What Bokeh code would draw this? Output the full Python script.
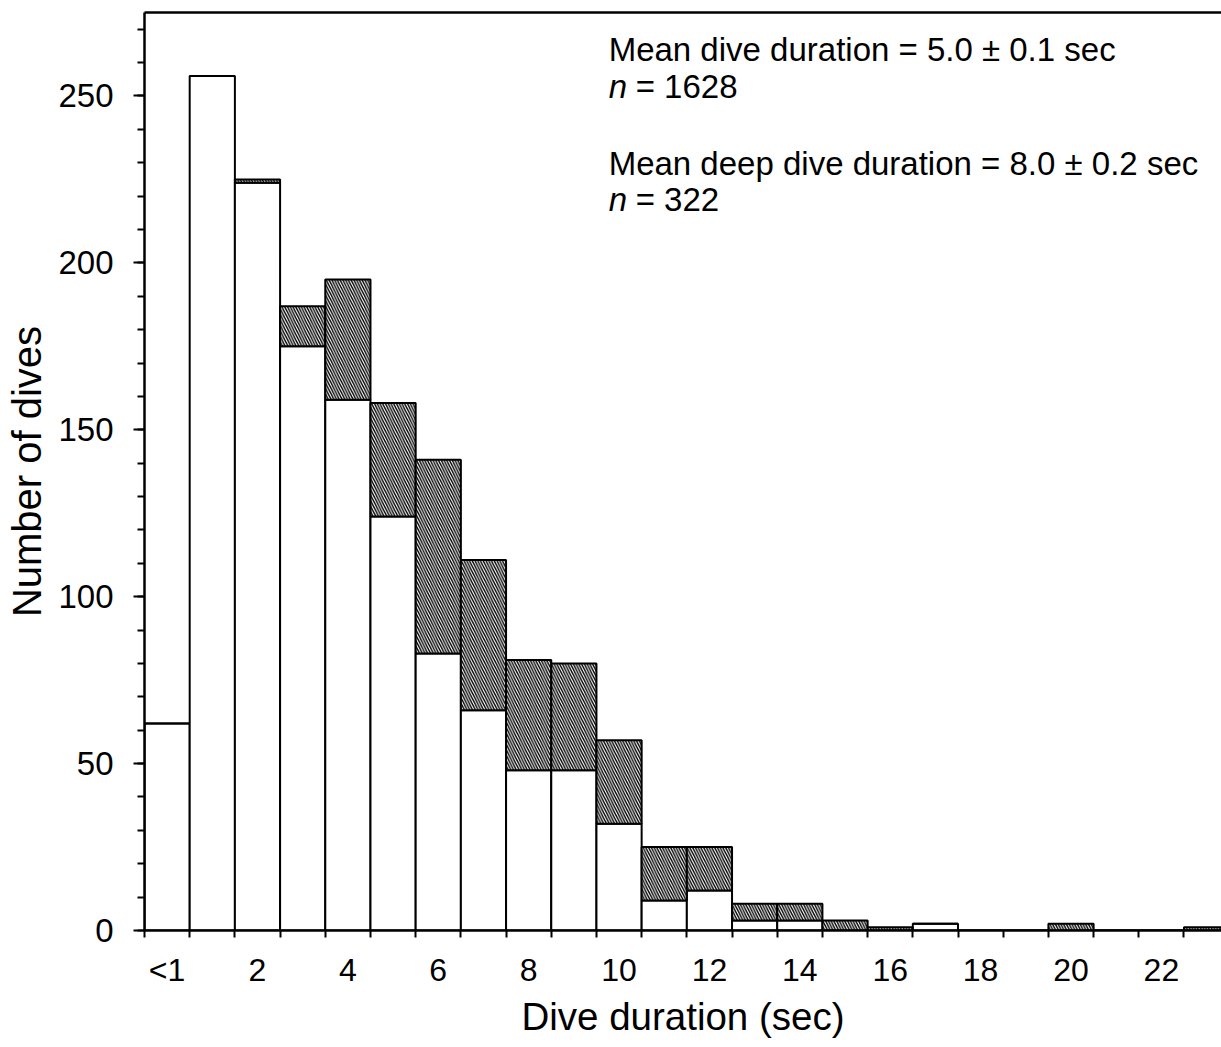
from bokeh.plotting import figure
from bokeh.models import FixedTicker, SingleIntervalTicker, LinearAxis, Label, Range1d, ColumnDataSource
from bokeh.embed import file_html
from bokeh.resources import INLINE

# ---- data ----
bins = list(range(24))  # bin index: 0 = "<1", 1 = 1 sec, ... 23 = 23 sec
shallow_dives = [62, 256, 224, 175, 159, 124, 83, 66, 48, 48, 32, 9, 12, 3, 3, 0, 0, 2, 0, 0, 0, 0, 0, 0]
deep_dives = [0, 0, 1, 12, 36, 34, 58, 45, 33, 32, 25, 16, 13, 5, 5, 3, 1, 0, 0, 0, 2, 0, 0, 1]
tick_positions = [0, 2, 4, 6, 8, 10, 12, 14, 16, 18, 20, 22]
tick_labels = ["<1", "2", "4", "6", "8", "10", "12", "14", "16", "18", "20", "22"]
annot_lines = ["Mean dive duration = 5.0 \u00b1 0.1 sec", "= 1628",
               "Mean deep dive duration = 8.0 \u00b1 0.2 sec", "= 322"]

totals = [s + d for s, d in zip(shallow_dives, deep_dives)]
src = ColumnDataSource(dict(x=bins, shallow=shallow_dives, total=totals,
                            zero=[0] * len(bins)))

FONT = "Liberation Sans"

p = figure(width=1221, height=1047, x_range=Range1d(-0.5, 23.33), y_range=Range1d(0, 275),
           output_backend="svg", toolbar_location=None,
           min_border_left=144, min_border_right=0, min_border_top=12, min_border_bottom=117)
p.outline_line_color = None
p.xgrid.visible = False
p.ygrid.visible = False
p.background_fill_color = "white"
p.border_fill_color = "white"

# white (shallow) bars
p.vbar(x="x", bottom="zero", top="shallow", width=1.0, source=src,
       fill_color="white", line_color="black", line_width=2)
# hatched (deep) bars stacked on top
p.vbar(x="x", bottom="shallow", top="total", width=1.0, source=src,
       fill_color="white", line_color="black", line_width=2,
       hatch_pattern="\\", hatch_color="black", hatch_scale=5.5, hatch_weight=1.4)

# x axis
xa = p.xaxis[0]
xa.ticker = FixedTicker(ticks=tick_positions, minor_ticks=[i - 0.5 for i in range(25)])
xa.major_label_overrides = {pos: lab for pos, lab in zip(tick_positions, tick_labels)}
xa.major_tick_line_color = None
xa.major_tick_out = 0
xa.major_tick_in = 0
xa.minor_tick_out = 7
xa.minor_tick_in = 0
xa.minor_tick_line_width = 2
xa.axis_line_width = 2.5
xa.major_label_standoff = 14
xa.major_label_text_font = FONT
xa.major_label_text_font_size = "32px"
xa.major_label_text_color = "black"
xa.axis_label = "Dive duration (sec)"
xa.axis_label_text_font = FONT
xa.axis_label_text_font_size = "38.5px"
xa.axis_label_text_font_style = "normal"
xa.axis_label_text_color = "black"
xa.axis_label_standoff = 4

# y axis
ya = p.yaxis[0]
ya.ticker = SingleIntervalTicker(interval=50, num_minor_ticks=5)
ya.major_tick_out = 11
ya.major_tick_in = 0
ya.minor_tick_out = 7
ya.minor_tick_in = 0
ya.major_tick_line_width = 2
ya.minor_tick_line_width = 2
ya.axis_line_width = 2.5
ya.major_label_standoff = 20
ya.major_label_text_font = FONT
ya.major_label_text_font_size = "33px"
ya.major_label_text_color = "black"
ya.axis_label = "Number of dives"
ya.axis_label_text_font = FONT
ya.axis_label_text_font_size = "40px"
ya.axis_label_text_font_style = "normal"
ya.axis_label_text_color = "black"
ya.axis_label_standoff = 6

# top frame line
top = LinearAxis(ticker=FixedTicker(ticks=[]), axis_line_width=2.5,
                 major_tick_line_color=None, minor_tick_line_color=None,
                 major_label_text_font_size="0px")
p.add_layout(top, "above")

# annotation text
ax = 9.77
ys = [263.8, 252.7, 229.9, 218.9]
for i, (txt, yy) in enumerate(zip(annot_lines, ys)):
    if i % 2 == 0:
        p.add_layout(Label(x=ax, y=yy, text=txt, text_font=FONT, text_font_size="33px",
                           text_baseline="alphabetic", text_color="black"))
    else:
        p.add_layout(Label(x=ax, y=yy, text="n", text_font=FONT, text_font_size="33px",
                           text_font_style="italic", text_baseline="alphabetic", text_color="black"))
        p.add_layout(Label(x=ax, y=yy, x_offset=27, text=txt, text_font=FONT, text_font_size="33px",
                           text_baseline="alphabetic", text_color="black"))

open("out.html", "w").write(file_html(p, INLINE))
